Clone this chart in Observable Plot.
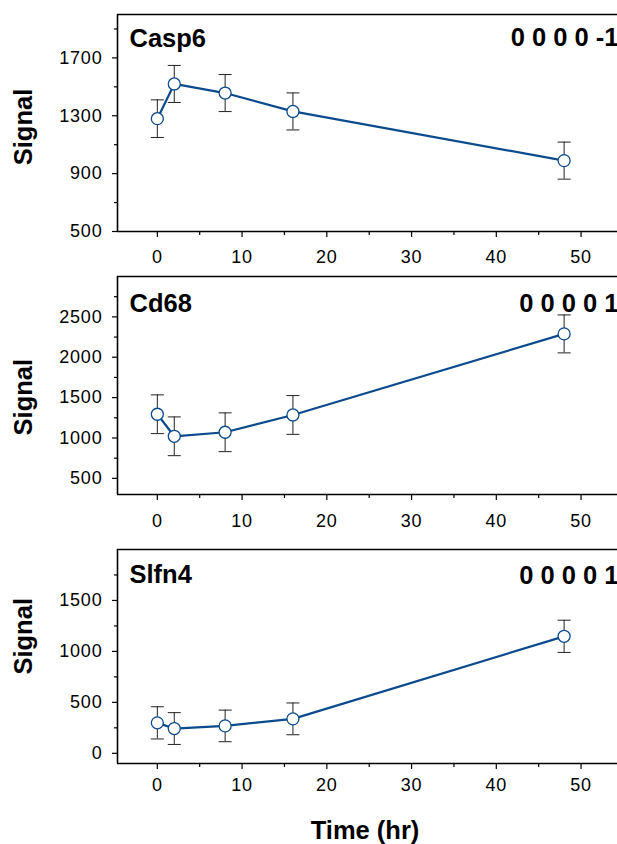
<!DOCTYPE html>
<html><head><meta charset="utf-8">
<script src="https://cdn.jsdelivr.net/npm/d3@7"></script>
<script src="https://cdn.jsdelivr.net/npm/@observablehq/plot@0.6"></script>
<style>
body{margin:0;background:#fff;}
#chart{width:617px;height:844px;overflow:hidden;}
#chart svg{display:block;}
#chart g[aria-label$="tick label"]{letter-spacing:0.8px;}
</style></head><body><div id="chart"></div>
<script>
const times = [0, 2, 8, 16, 48];
const genes = ["Casp6", "Cd68", "Slfn4"];
const codes = ["0 0 0 0 -1", "0 0 0 0 1", "0 0 0 0 1"];
const casp6Mean = [1280, 1520, 1457, 1330, 990];
const casp6Err = [130, 128, 128, 128, 128];
const cd68Mean = [1294, 1021, 1071, 1285, 2289];
const cd68Err = [240, 240, 240, 240, 235];
const slfn4Mean = [299, 243, 269, 338, 1148];
const slfn4Err = [158, 156, 155, 156, 158];
const yDomains = [[500, 2000], [300, 3000], [-100, 2000]];
const yMajor = [[500, 900, 1300, 1700], [500, 1000, 1500, 2000, 2500], [0, 500, 1000, 1500]];
const yMinor = [[700, 1100, 1500, 1900], [750, 1250, 1750, 2250, 2750], [250, 750, 1250, 1750]];
const xDomain = [-4.7, 54.3];
const xMajor = [0, 10, 20, 30, 40, 50];
const xMinor = [5, 15, 25, 35, 45];
const xLabel = "Time (hr)";
const yLabel = "Signal";

const means = [casp6Mean, cd68Mean, slfn4Mean];
const errs = [casp6Err, cd68Err, slfn4Err];

const layout = [
  {height: 270, mt: 14, mb: 39, xPad: 13, labelDy: 14, codeDy: 13, signalDy: 112.5},
  {height: 270, mt: 6, mb: 46, xPad: 14, labelDy: 17, codeDy: 17, signalDy: 120.7},
  {height: 304, mt: 9, mb: 81, xPad: 9, labelDy: 15, codeDy: 16, signalDy: 86.8}
];

const blue = "#0b4a8c";
const capSymbol = {draw(ctx) { ctx.moveTo(-6.5, 0); ctx.lineTo(6.5, 0); }};
const font = "'Liberation Sans', Arial, Helvetica, sans-serif";
const fmt = d => String(d);

const container = document.getElementById("chart");

genes.forEach((gene, k) => {
  const L = layout[k];
  const data = times.map((t, i) => ({t, mean: means[k][i], lo: means[k][i] - errs[k][i], hi: means[k][i] + errs[k][i]}));
  const marks = [
    Plot.ruleY([yDomains[k][1]], {stroke: "black", strokeWidth: 1.6}),
    Plot.ruleY([yDomains[k][0]], {stroke: "black", strokeWidth: 1.6}),
    Plot.ruleX([xDomain[0]], {stroke: "black", strokeWidth: 1.6}),
    Plot.axisX(xMajor, {tickSize: 6, tickPadding: L.xPad, tickFormat: fmt, label: null, strokeWidth: 1.2}),
    Plot.axisX(xMinor, {tickSize: 4, tickFormat: () => "", label: null, strokeWidth: 1.2}),
    Plot.axisY(yMajor[k], {tickSize: 5, tickPadding: 10, tickFormat: fmt, label: null, strokeWidth: 1.2}),
    Plot.axisY(yMinor[k], {tickSize: 3, tickFormat: () => "", label: null, strokeWidth: 1.2}),
    Plot.ruleX(data, {x: "t", y1: "lo", y2: "hi", stroke: "#222", strokeWidth: 1}),
    Plot.dot(data, {x: "t", y: "lo", symbol: capSymbol, fill: "none", stroke: "#222", strokeWidth: 1}),
    Plot.dot(data, {x: "t", y: "hi", symbol: capSymbol, fill: "none", stroke: "#222", strokeWidth: 1}),
    Plot.line(data, {x: "t", y: "mean", stroke: blue, strokeWidth: 2.2}),
    Plot.dot(data, {x: "t", y: "mean", r: 6, fill: "white", stroke: blue, strokeWidth: 1.3}),
    Plot.text([gene], {text: d => d, frameAnchor: "top-left", dx: 12, dy: L.labelDy, lineAnchor: "top", textAnchor: "start", fontSize: 25.5, fontWeight: "bold", fill: "black"}),
    Plot.text([codes[k]], {text: d => d, frameAnchor: "top-right", dx: 1, dy: L.codeDy, lineAnchor: "top", textAnchor: "end", fontSize: 25.5, fontWeight: "bold", fill: "black"}),
    Plot.text([yLabel], {text: d => d, frameAnchor: "top-left", dx: -94, dy: L.signalDy, rotate: -90, textAnchor: "middle", lineAnchor: "middle", fontSize: 25.5, fontWeight: "bold", fill: "black"})
  ];
  if (k === genes.length - 1) {
    marks.push(Plot.text([xLabel], {text: d => d, frameAnchor: "bottom", dx: -2.5, dy: 57, textAnchor: "middle", lineAnchor: "top", fontSize: 25.5, fontWeight: "bold", fill: "black"}));
  }
  const chart = Plot.plot({
    width: 617,
    height: L.height,
    marginTop: L.mt,
    marginBottom: L.mb,
    marginLeft: 117,
    marginRight: 0,
    x: {domain: xDomain},
    y: {domain: yDomains[k]},
    style: {fontFamily: font, fontSize: "18px", background: "white", overflow: "visible", color: "black"},
    marks
  });
  container.appendChild(chart);
});
</script>
</body></html>
